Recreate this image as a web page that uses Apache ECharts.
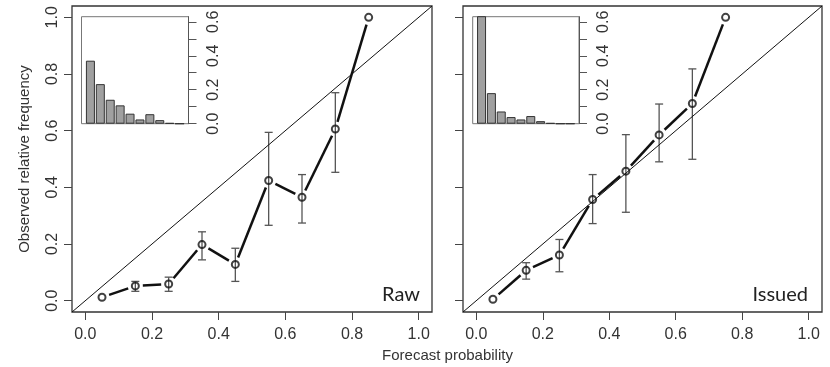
<!DOCTYPE html>
<html>
<head>
<meta charset="utf-8">
<script src="https://cdn.jsdelivr.net/npm/echarts@6/dist/echarts.min.js"></script>
<style>
  html, body { margin: 0; padding: 0; background: #fff; }
  #chart { width: 830px; height: 367px; }
</style>
</head>
<body>
<div id="chart"></div>
<script>
// forecast probability bins (centres)
const binMids = [0.05, 0.15, 0.25, 0.35, 0.45, 0.55, 0.65, 0.75, 0.85, 0.95];

// Raw panel
const rawProb = [0.05, 0.15, 0.25, 0.35, 0.45, 0.55, 0.65, 0.75, 0.85];
const rawObs  = [0.012, 0.052, 0.059, 0.198, 0.128, 0.424, 0.365, 0.606, 1.0];
const rawLo   = [null, 0.033, 0.033, 0.144, 0.068, 0.266, 0.274, 0.453, null];
const rawHi   = [null, 0.068, 0.083, 0.243, 0.185, 0.594, 0.445, 0.734, null];
const rawHist = [0.371, 0.233, 0.141, 0.108, 0.059, 0.025, 0.056, 0.021, 0.004, 0];

// Issued panel
const issuedProb = [0.05, 0.15, 0.25, 0.35, 0.45, 0.55, 0.65, 0.75];
const issuedObs  = [0.005, 0.107, 0.161, 0.357, 0.457, 0.585, 0.696, 1.0];
const issuedLo   = [null, 0.076, 0.102, 0.272, 0.312, 0.490, 0.499, null];
const issuedHi   = [null, 0.134, 0.216, 0.445, 0.586, 0.694, 0.818, null];
const issuedHist = [0.66, 0.180, 0.072, 0.039, 0.025, 0.045, 0.015, 0.004, 0, 0];

// axes
const axisRange = [-0.04, 1.04];
const mainTicks = [0, 0.2, 0.4, 0.6, 0.8, 1.0];
const insetTicks = [0, 0.1, 0.2, 0.3, 0.4, 0.5, 0.6];
const insetLabels = [0, 0.2, 0.4, 0.6];
const insetMax = 0.63;

const FONT = '"Liberation Sans", Arial, sans-serif';
const TXT = '#333';

const chart = echarts.init(document.getElementById('chart'), null, { renderer: 'canvas' });

function mainX(gi) {
  return {
    type: 'value', gridIndex: gi, min: axisRange[0], max: axisRange[1],
    axisLine: { show: false, onZero: false },
    splitLine: { show: false },
    axisTick: { show: true, customValues: mainTicks, length: 8, lineStyle: { color: '#444', width: 1 } },
    axisLabel: { customValues: mainTicks, formatter: v => v.toFixed(1), fontSize: 16, color: TXT, fontFamily: FONT, margin: 15 }
  };
}
function mainY(gi, labels) {
  const ax = {
    type: 'value', gridIndex: gi, min: axisRange[0], max: axisRange[1],
    axisLine: { show: false, onZero: false },
    splitLine: { show: false },
    axisTick: { show: true, customValues: mainTicks, length: 8, lineStyle: { color: '#444', width: 1 } },
    axisLabel: { show: labels, customValues: mainTicks, formatter: v => v.toFixed(1), rotate: 90, fontSize: 16, color: TXT, fontFamily: FONT, margin: 11 }
  };
  if (labels) {
    ax.name = 'Observed relative frequency';
    ax.nameLocation = 'middle';
    ax.nameRotate = 90;
    ax.nameGap = 40;
    ax.nameTextStyle = { fontSize: 15, color: TXT, fontFamily: FONT };
  }
  return ax;
}
function insetX(gi) {
  return { type: 'value', gridIndex: gi, min: axisRange[0], max: axisRange[1], show: false, axisLine: { onZero: false } };
}
function insetY(gi) {
  return {
    type: 'value', gridIndex: gi, min: 0, max: insetMax, position: 'right',
    axisLine: { show: true, onZero: false, lineStyle: { color: '#555', width: 1 } },
    splitLine: { show: false },
    axisTick: { show: true, customValues: insetTicks, length: 8, lineStyle: { color: '#555', width: 1 } },
    axisLabel: { customValues: insetLabels, formatter: v => v.toFixed(1), rotate: 90, fontSize: 16, color: TXT, fontFamily: FONT, margin: 17 }
  };
}

function errorBarItem(params, api) {
  const x = api.value(0);
  const lo = api.coord([x, api.value(1)]);
  const hi = api.coord([x, api.value(2)]);
  const w = 4;
  const style = { stroke: '#555', lineWidth: 1.3 };
  return {
    type: 'group',
    children: [
      { type: 'line', shape: { x1: lo[0], y1: lo[1], x2: hi[0], y2: hi[1] }, style },
      { type: 'line', shape: { x1: lo[0] - w, y1: lo[1], x2: lo[0] + w, y2: lo[1] }, style },
      { type: 'line', shape: { x1: hi[0] - w, y1: hi[1], x2: hi[0] + w, y2: hi[1] }, style }
    ]
  };
}

// R type="b": segments stop short of the points
function segmentItem(params, api) {
  const a = api.coord([api.value(0), api.value(1)]);
  const b = api.coord([api.value(2), api.value(3)]);
  const dx = b[0] - a[0], dy = b[1] - a[1];
  const len = Math.sqrt(dx * dx + dy * dy);
  const gap = 7.5;
  if (len <= 2 * gap) return null;
  const ux = dx / len, uy = dy / len;
  return {
    type: 'line',
    shape: { x1: a[0] + ux * gap, y1: a[1] + uy * gap, x2: b[0] - ux * gap, y2: b[1] - uy * gap },
    style: { stroke: '#111', lineWidth: 2.5 }
  };
}

function panelSeries(gi, insetGi, prob, obs, lo, hi, hist) {
  const errData = [];
  prob.forEach((p, i) => { if (lo[i] != null) errData.push([p, lo[i], hi[i]]); });
  const segData = [];
  for (let i = 0; i < prob.length - 1; i++) segData.push([prob[i], obs[i], prob[i + 1], obs[i + 1]]);
  return [
    {
      type: 'line', xAxisIndex: gi, yAxisIndex: gi, silent: true, symbol: 'none',
      data: [[axisRange[0], axisRange[0]], [axisRange[1], axisRange[1]]],
      lineStyle: { color: '#111', width: 1 }
    },
    {
      type: 'custom', xAxisIndex: gi, yAxisIndex: gi, silent: true,
      renderItem: errorBarItem, data: errData, encode: { x: 0, y: [1, 2] }
    },
    {
      type: 'custom', xAxisIndex: gi, yAxisIndex: gi, silent: true,
      renderItem: segmentItem, data: segData, encode: { x: [0, 2], y: [1, 3] }
    },
    {
      type: 'scatter', xAxisIndex: gi, yAxisIndex: gi, silent: true,
      symbol: 'circle', symbolSize: 7,
      itemStyle: { color: 'rgba(0,0,0,0)', borderColor: '#111', borderWidth: 2 },
      data: prob.map((p, i) => [p, obs[i]])
    },
    {
      type: 'bar', xAxisIndex: insetGi, yAxisIndex: insetGi, silent: true,
      barWidth: 9,
      itemStyle: { color: '#a0a0a0', borderColor: '#333', borderWidth: 1 },
      data: binMids.map((m, i) => [m, hist[i]])
    }
  ];
}

const gridStyle = { show: true, borderColor: '#333', borderWidth: 1.3, backgroundColor: 'rgba(0,0,0,0)' };
const insetStyle = { show: true, borderColor: '#777', borderWidth: 1, backgroundColor: 'rgba(0,0,0,0)' };

chart.setOption({
  animation: false,
  backgroundColor: '#fff',
  grid: [
    Object.assign({ left: 72, top: 6, width: 360, height: 306 }, gridStyle),
    Object.assign({ left: 463, top: 6, width: 359, height: 306 }, gridStyle),
    Object.assign({ left: 81.5, top: 16.7, width: 107, height: 107 }, insetStyle),
    Object.assign({ left: 472.7, top: 16.7, width: 106.3, height: 107 }, insetStyle)
  ],
  xAxis: [mainX(0), mainX(1), insetX(2), insetX(3)],
  yAxis: [mainY(0, true), mainY(1, false), insetY(2), insetY(3)],
  series: [].concat(
    panelSeries(0, 2, rawProb, rawObs, rawLo, rawHi, rawHist),
    panelSeries(1, 3, issuedProb, issuedObs, issuedLo, issuedHi, issuedHist)
  ),
  graphic: [
    { type: 'text', x: 420, y: 295, style: { text: 'Raw', fill: '#222', font: '20px Lato, "Open Sans", sans-serif', align: 'right', verticalAlign: 'middle' } },
    { type: 'text', x: 808, y: 295, style: { text: 'Issued', fill: '#222', font: '20px Lato, "Open Sans", sans-serif', align: 'right', verticalAlign: 'middle' } },
    { type: 'text', x: 447.5, y: 356, style: { text: 'Forecast probability', fill: TXT, font: '15px "Liberation Sans", Arial, sans-serif', align: 'center', verticalAlign: 'middle' } }
  ]
});
</script>
</body>
</html>
